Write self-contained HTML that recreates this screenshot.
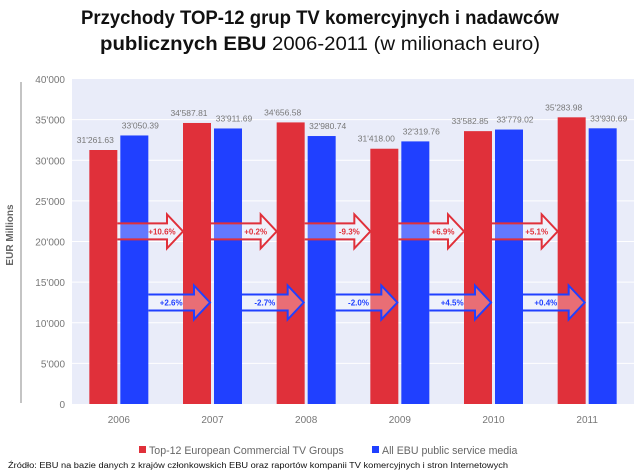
<!DOCTYPE html>
<html><head><meta charset="utf-8"><style>
body{margin:0;background:#fff;width:640px;height:476px;overflow:hidden}
svg{display:block;font-family:"Liberation Sans",sans-serif}
</style></head><body>
<svg id="chart" width="640" height="476" viewBox="0 0 640 476">
<text x="320" y="24" text-anchor="middle" font-size="19" font-weight="bold" textLength="478" lengthAdjust="spacingAndGlyphs" fill="#111">Przychody TOP-12 grup TV komercyjnych i nadawców</text>
<text x="320" y="50" text-anchor="middle" font-size="19" fill="#111" textLength="440" lengthAdjust="spacingAndGlyphs"><tspan font-weight="bold">publicznych EBU</tspan> 2006-2011 (w milionach euro)</text>
<rect x="72" y="79" width="562" height="325" fill="#E9ECF9"/>
<g id="grid"></g>
<line x1="21" y1="82" x2="21" y2="403" stroke="#888" stroke-width="1"/>
<text transform="translate(13,235) rotate(-90)" text-anchor="middle" font-size="10" font-weight="bold" fill="#666">EUR Millions</text>
<g id="bars"></g>
<g id="arrows"></g>
<rect x="139" y="446" width="7" height="7" fill="#E0303A"/>
<text x="149" y="454" font-size="10.6" fill="#666">Top-12 European Commercial TV Groups</text>
<rect x="372" y="446" width="7" height="7" fill="#2040FF"/>
<text x="382" y="454" font-size="10.6" fill="#666">All EBU public service media</text>
<text x="8" y="468" font-size="8" fill="#111" textLength="500" lengthAdjust="spacingAndGlyphs">Źródło: EBU na bazie danych z krajów członkowskich EBU oraz raportów kompanii TV komercyjnych i stron Internetowych</text>
</svg>
<script>
const years=["2006","2007","2008","2009","2010","2011"];
const commercial=[31261.63,34587.81,34656.58,31418.00,33582.85,35283.98];
const publicMedia=[33050.39,33911.69,32980.74,32319.76,33779.02,33930.69];
const commercialLabels=["31'261.63","34'587.81","34'656.58","31'418.00","33'582.85","35'283.98"];
const publicLabels=["33'050.39","33'911.69","32'980.74","32'319.76","33'779.02","33'930.69"];
const commercialGrowth=["+10.6%","+0.2%","-9.3%","+6.9%","+5.1%"];
const publicGrowth=["+2.6%","-2.7%","-2.0%","+4.5%","+0.4%"];
const yTicks=[0,5000,10000,15000,20000,25000,30000,35000,40000];
const yTickLabels=["0","5'000","10'000","15'000","20'000","25'000","30'000","35'000","40'000"];

const NS="http://www.w3.org/2000/svg";
const X0=72,X1=634,Y0=404,Y1=79,YMAX=40000;
const band=(X1-X0)/years.length;
const y=v=>Y0-(v/YMAX)*(Y0-Y1);
const cx=i=>X0+band*(i+0.5);
const BW=28,GAP=3;
function mk(tag,attrs,parent){const e=document.createElementNS(NS,tag);for(const k in attrs)e.setAttribute(k,attrs[k]);parent.appendChild(e);return e;}
const grid=document.getElementById('grid'),bars=document.getElementById('bars'),arrows=document.getElementById('arrows'),svg=document.getElementById('chart');
yTicks.forEach((t,i)=>{
  if(t>0&&t<YMAX){const l=mk('line',{x1:X0,x2:X1,y1:y(t),y2:y(t),stroke:'#fff','stroke-width':1},grid);
  
  }
  const tx=mk('text',{x:65,y:y(t)+4,'text-anchor':'end','font-size':10,fill:'#777'},svg);
  tx.textContent=yTickLabels[i];
  
  
});
years.forEach((yr,i)=>{
  const rx=cx(i)-GAP/2-BW,bx=cx(i)+GAP/2;
  const r=mk('rect',{x:rx,y:y(commercial[i]),width:BW,height:Y0-y(commercial[i]),fill:'#E0303A'},bars);
  
  
  const b=mk('rect',{x:bx,y:y(publicMedia[i]),width:BW,height:Y0-y(publicMedia[i]),fill:'#2040FF'},bars);
  
  
  const lr=mk('text',{x:rx+BW/2-8,y:y(commercial[i])-7,'text-anchor':'middle','font-size':8.5,fill:'#777'},bars);
  lr.textContent=commercialLabels[i];
  
  
  const lb=mk('text',{x:bx+BW/2+6,y:y(publicMedia[i])-7,'text-anchor':'middle','font-size':8.5,fill:'#777'},bars);
  lb.textContent=publicLabels[i];
  
  
  const xl=mk('text',{x:cx(i),y:423,'text-anchor':'middle','font-size':10,fill:'#777'},svg);
  xl.textContent=yr;
  
  
});
function arrow(x0,x1,yc,col,label,name,lx){
  const hs=x1-16,sh=8,hh=17;
  const p=mk('path',{d:`M${x0} ${yc-sh} L${hs} ${yc-sh} L${hs} ${yc-hh} L${x1} ${yc} L${hs} ${yc+hh} L${hs} ${yc+sh} L${x0} ${yc+sh}`,fill:'rgba(255,255,255,0.3)',stroke:col,'stroke-width':2},arrows);
  
  
  const t=mk('text',{x:lx(x0,hs),y:yc+3,'text-anchor':'middle','font-size':8,'font-weight':'bold',fill:col},arrows);
  t.textContent=label;
  
  
}
for(let i=0;i<5;i++){
  arrow(cx(i)-GAP/2,cx(i+1)-GAP/2-BW,y(21000)-2,'#E0303A',commercialGrowth[i],'growth-arrow-commercial',(a,h)=>h-5);
  arrow(cx(i)+GAP/2+BW,cx(i+1)+GAP/2-4,y(12000)-4,'#2040FF',publicGrowth[i],'growth-arrow-public',(a,h)=>(a+h)/2);
}
</script>
</body></html>
